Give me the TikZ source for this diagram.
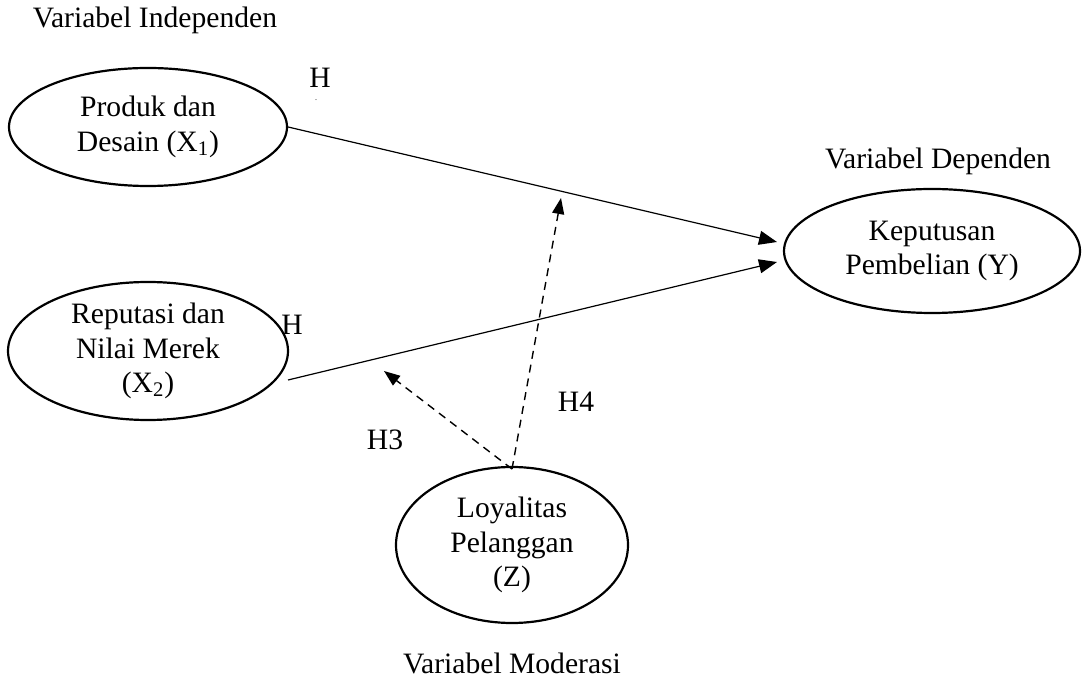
\documentclass[tikz,border=0pt]{standalone}
\usepackage{fontspec}
\setmainfont{Liberation Serif}
\usetikzlibrary{arrows.meta,shapes.geometric}
\begin{document}
\begin{tikzpicture}[x=0.5pt,y=-0.5pt,
  every node/.style={font=\fontsize{14.8}{17.2}\selectfont},
  var/.style={draw,ellipse,line width=1.1pt,inner sep=0pt,align=center},
  lbl/.style={inner sep=0pt},
  conn/.style={line width=0.6pt,-{Triangle[length=9pt,width=7pt]}},
  dconn/.style={line width=0.7pt,dashed,dash pattern=on 4pt off 3pt,-{Triangle[length=8pt,width=6pt]}}]
\useasboundingbox (0,0) rectangle (1091,694);
\node[var,minimum width=139pt,minimum height=59pt] (x1) at (148,127) {Produk dan\\Desain (X\textsubscript{1})};
\node[var,minimum width=140pt,minimum height=69pt] (x2) at (148,351) {Reputasi dan\\Nilai Merek\\(X\textsubscript{2})};
\node[var,minimum width=148pt,minimum height=62pt] (y) at (932,251) {Keputusan\\Pembelian (Y)};
\node[var,minimum width=116pt,minimum height=78pt] (z) at (512,545) {Loyalitas\\Pelanggan\\(Z)};
\node[lbl] (t1) at (155,20) {Variabel Independen};
\node[lbl] (t2) at (938,161) {Variabel Dependen};
\node[lbl] (t3) at (512,663) {Variabel Moderasi};
\node[lbl] (h1) at (320,78) {H};
\node[lbl,font=\fontsize{4}{4}\selectfont] (dot) at (316,100) {.};
\node[lbl] (h2) at (292,325) {H};
\node[lbl] (h3) at (385,440) {H3};
\node[lbl] (h4) at (576,402) {H4};
\coordinate (ya) at (777,242);
\coordinate (yb) at (777,262);
\coordinate (xb) at (288,380);
\coordinate (za) at (512,469);
\coordinate (m4) at (561,198);
\coordinate (m3) at (384,371);
\draw[conn] (x1.east) -- (ya);
\draw[conn] (xb) -- (yb);
\draw[dconn] (za) -- (m4);
\draw[dconn] (za) -- (m3);
\end{tikzpicture}
\end{document}
